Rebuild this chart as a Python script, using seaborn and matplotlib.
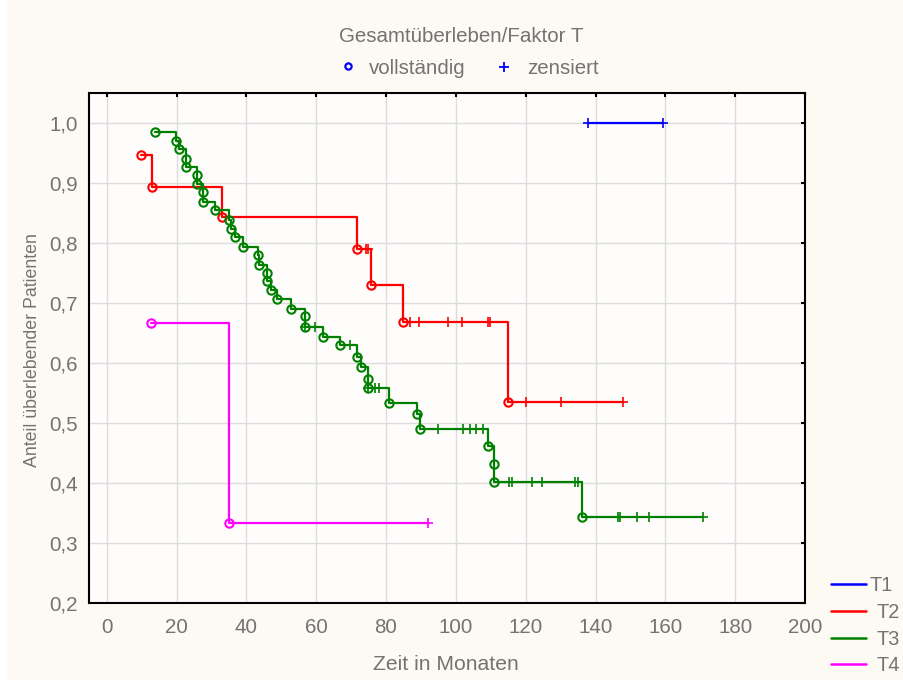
import numpy as np
import pandas as pd
import matplotlib
matplotlib.use("Agg")
import matplotlib.pyplot as plt
import seaborn as sns
from matplotlib.lines import Line2D
from matplotlib.patches import Rectangle

# ---- data: Kaplan-Meier estimates per T stage (months, survival proportion) ----
groups = ["T1", "T2", "T3", "T4"]
group_colors = ["#0000FF", "#FF0000", "#008000", "#FF00FF"]

t1_event_times = []
t1_event_surv = []
t1_censor_times = [137.8, 159.3]

t2_event_times = [9.8, 12.9, 32.9, 71.6, 75.7, 84.9, 115.0]
t2_event_surv = [0.947, 0.894, 0.843, 0.790, 0.731, 0.668, 0.535]
t2_censor_times = [74.3, 74.9, 86.9, 89.5, 97.8, 101.8, 109.3, 109.9,
                   120.1, 130.0, 147.8]

t3_event_times = [13.8, 19.8, 20.7, 22.8, 22.8, 25.8, 25.8, 27.7, 27.7, 31.0,
                  35.1, 35.7, 36.8, 39.1, 43.3, 43.6, 46.0, 46.0, 47.1, 48.9,
                  52.8, 56.7, 56.7, 62.0, 66.8, 71.7, 72.8, 74.7, 74.7, 80.9,
                  89.0, 89.7, 109.1, 111.0, 111.0, 136.1]
t3_event_surv = [0.986, 0.971, 0.957, 0.941, 0.927, 0.914, 0.898, 0.886, 0.868, 0.855,
                 0.838, 0.824, 0.810, 0.794, 0.781, 0.764, 0.751, 0.737, 0.722, 0.707,
                 0.691, 0.678, 0.661, 0.644, 0.631, 0.611, 0.594, 0.574, 0.558, 0.534,
                 0.515, 0.491, 0.461, 0.431, 0.401, 0.344]
t3_censor_times = [56.7, 59.7, 69.7, 74.7, 76.9, 78.1, 94.8, 101.9, 104.1, 105.8,
                   107.9, 115.3, 116.0, 121.9, 124.8, 134.0, 135.0, 146.3, 146.9,
                   151.9, 155.2, 170.9]

t4_event_times = [12.7, 35.0]
t4_event_surv = [0.667, 0.333]
t4_censor_times = [92.1]

x_ticks = list(range(0, 201, 20))
y_ticks = [0.2, 0.3, 0.4, 0.5, 0.6, 0.7, 0.8, 0.9, 1.0]

title = "Gesamtüberleben/Faktor T"
x_label = "Zeit in Monaten"
y_label = "Anteil überlebender Patienten"
marker_labels = ["vollständig", "zensiert"]

series = {
    "T1": (t1_event_times, t1_event_surv, t1_censor_times),
    "T2": (t2_event_times, t2_event_surv, t2_censor_times),
    "T3": (t3_event_times, t3_event_surv, t3_censor_times),
    "T4": (t4_event_times, t4_event_surv, t4_censor_times),
}


def level_at(ev_t, ev_s, t):
    """Survival value of the step function at time t (after events at t)."""
    val = 1.0
    for et, es in zip(ev_t, ev_s):
        if et <= t:
            val = es
    return val


line_rows, event_rows, censor_rows = [], [], []
for g in groups:
    ev_t, ev_s, cen_t = series[g]
    if ev_t:
        path = list(zip(ev_t, ev_s))
        last_t = max(cen_t) if cen_t else ev_t[-1]
        if last_t > ev_t[-1]:
            path.append((last_t, ev_s[-1]))
    else:
        path = [(min(cen_t), 1.0), (max(cen_t), 1.0)]
    for i, (t, s) in enumerate(path):
        line_rows.append({"group": g, "order": i, "time": t, "surv": s})
    for t, s in zip(ev_t, ev_s):
        event_rows.append({"group": g, "time": t, "surv": s})
    for t in cen_t:
        censor_rows.append({"group": g, "time": t, "surv": level_at(ev_t, ev_s, t)})

lines_df = pd.DataFrame(line_rows)
events_df = pd.DataFrame(event_rows)
censor_df = pd.DataFrame(censor_rows)

# ---- styling ----
sns.set_style("white")
plt.rcParams["font.family"] = ["Liberation Sans", "DejaVu Sans"]
text_gray = "#737373"
fs = 14.8

W, H = 904, 682
fig = plt.figure(figsize=(W / 100, H / 100), dpi=100)
fig.patch.set_facecolor("white")
fig.add_artist(Rectangle((7 / W, 2 / H), 1, 1, transform=fig.transFigure,
                         facecolor="#FDFAF3", edgecolor="none", zorder=-10))

ax = fig.add_axes([89.3 / W, (H - 603) / H, (805 - 89.3) / W, (603 - 93.3) / H])
ax.set_facecolor("#FEFDFB")

palette = dict(zip(groups, group_colors))
sns.lineplot(data=lines_df, x="time", y="surv", hue="group", palette=palette,
             units="group", estimator=None, sort=False, drawstyle="steps-post",
             linewidth=1.6, legend=False, ax=ax, zorder=3)

for g in groups:
    e = events_df[events_df["group"] == g]
    c = censor_df[censor_df["group"] == g]
    ax.plot(e["time"], e["surv"], linestyle="none", marker="o", ms=6,
            mfc="none", mec=palette[g], mew=1.5, zorder=4)
    ax.plot(c["time"], c["surv"], linestyle="none", marker="+", ms=6.5,
            mec=palette[g], mew=1.2, zorder=4)

ax.set_xlim(-5, 200)
ax.set_ylim(0.2, 1.05)
ax.set_xticks(x_ticks)
ax.set_xticklabels([str(v) for v in x_ticks])
ax.set_yticks(y_ticks)
ax.set_yticklabels([f"{v:.1f}".replace(".", ",") for v in y_ticks])
ax.grid(True, color="#DCDCDC", linewidth=1.0)
ax.set_axisbelow(True)
ax.set_xlabel("")
ax.set_ylabel("")
for sp in ax.spines.values():
    sp.set_visible(True)
    sp.set_color("black")
    sp.set_linewidth(1.5)
ax.tick_params(axis="both", direction="in", length=3, width=1.5, color="black",
               top=True, right=True, labelcolor=text_gray, labelsize=fs)
ax.tick_params(axis="x", pad=11.0)
ax.tick_params(axis="y", pad=8.4)


def fx(px):
    return px / W


def fy(py):
    return 1 - py / H


fig.text(fx(461), fy(42), title, ha="center", va="baseline", color=text_gray, fontsize=fs)
fig.text(fx(446), fy(670), x_label, ha="center", va="baseline", color=text_gray, fontsize=15.2)
fig.text(fx(33), fy(350.5), y_label, ha="center", va="center", rotation=90,
         color=text_gray, fontsize=12.8)

# marker key above the plot
fig.add_artist(Line2D([fx(347.7)], [fy(66)], marker="o", ms=4.5, mfc="none",
                      mec="#0000FF", mew=1.6, linestyle="none", transform=fig.transFigure))
fig.text(fx(369.3), fy(74), marker_labels[0], ha="left", va="baseline",
         color=text_gray, fontsize=fs)
fig.add_artist(Line2D([fx(504)], [fy(66.7)], marker="+", ms=6.5, mec="#0000FF",
                      mew=1.3, linestyle="none", transform=fig.transFigure))
fig.text(fx(526.7), fy(74), marker_labels[1], ha="left", va="baseline",
         color=text_gray, fontsize=fs)

# group key at the lower right
key_line_y = [584, 610.7, 637.7, 664.3]
key_text_base = [591, 618, 645, 671]
key_text_x = [870, 876.7, 876.7, 876.7]
for g, ly, tb, tx in zip(groups, key_line_y, key_text_base, key_text_x):
    fig.add_artist(Line2D([fx(831), fx(866)], [fy(ly), fy(ly)], color=palette[g],
                          linewidth=1.8, transform=fig.transFigure))
    fig.text(fx(tx), fy(tb), g, ha="left", va="baseline", color=text_gray, fontsize=14.4)

fig.savefig("out.png", dpi=100, facecolor=fig.get_facecolor())
